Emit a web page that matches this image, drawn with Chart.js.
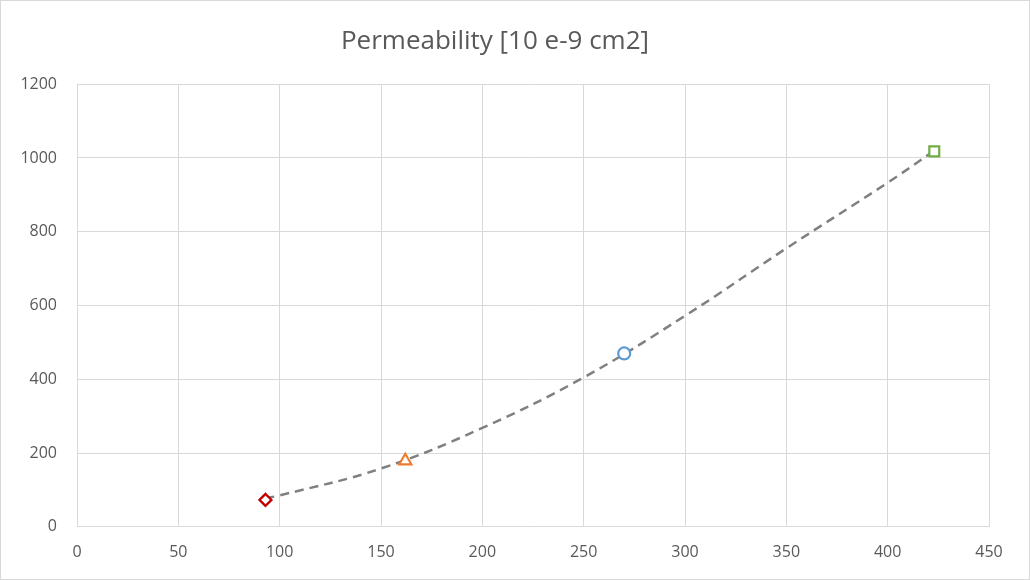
<!DOCTYPE html>
<html>
<head>
<meta charset="utf-8">
<script src="https://cdn.jsdelivr.net/npm/chart.js@4"></script>
<style>
	html, body { margin: 0; padding: 0; background: #fff; }
	#wrap { width: 1028px; height: 578px; border: 1px solid #d9d9d9; }
</style>
</head>
<body>
<div id="wrap"><canvas id="perm-chart" width="1028" height="578"></canvas></div>
<script>
// measured samples
const samples = [
	{ x: 93, y: 73 },
	{ x: 162, y: 179 },
	{ x: 270, y: 470 },
	{ x: 423, y: 1018 }
];
const markerStyles = ["rectRot", "triangle", "circle", "rect"];
const markerColors = ["#C00000", "#ED7D31", "#5B9BD5", "#70AD47"];
const markerSizes = [6, 7, 6, 7];

// trendline
const trendX = [93, 100, 150, 200, 250, 300, 350, 400, 423];
const trendY = [78, 85, 158, 268, 405, 572, 755, 933, 1020];

const xTicks = [0, 50, 100, 150, 200, 250, 300, 350, 400, 450];
const yTicks = [0, 200, 400, 600, 800, 1000, 1200];

const font = "'Open Sans', 'Liberation Sans', sans-serif";
const textColor = "#595959";

const datasets = [
	{
		label: "Trend",
		data: trendX.map((x, i) => ({ x: x, y: trendY[i] })),
		showLine: true,
		borderColor: "#808080",
		borderWidth: 2.5,
		borderDash: [9, 6],
		tension: 0.4,
		pointRadius: 0,
		order: 2
	}
];
samples.forEach((p, i) => {
	datasets.push({
		label: "S" + (i + 1),
		data: [p],
		pointStyle: markerStyles[i],
		pointRadius: markerSizes[i],
		borderColor: markerColors[i],
		backgroundColor: "#fff",
		pointBorderWidth: 2.2,
		order: 1
	});
});

const ctx = document.getElementById("perm-chart").getContext("2d");
const chart = new Chart(ctx, {
	type: "scatter",
	data: { datasets: datasets },
	options: {
		responsive: false,
		animation: false,
		layout: { padding: { left: 0, right: 40, top: 25, bottom: 1 } },
		plugins: {
			legend: { display: false },
			tooltip: { enabled: false },
			title: {
				display: true,
				text: "Permeability [10 e-9 cm2]",
				color: textColor,
				font: { family: font, size: 26, weight: "normal" },
				padding: { top: 0, bottom: 27 }
			}
		},
		scales: {
			x: {
				type: "linear",
				min: 0,
				max: 450,
				afterBuildTicks: (s) => { s.ticks = xTicks.map(v => ({ value: v })); },
				grid: { color: "#d9d9d9", drawTicks: false },
				border: { color: "#d9d9d9" },
				ticks: {
					color: textColor,
					font: { family: font, size: 16 },
					padding: 16,
					callback: (v) => String(v)
				}
			},
			y: {
				type: "linear",
				min: 0,
				max: 1200,
				afterBuildTicks: (s) => { s.ticks = yTicks.map(v => ({ value: v })); },
				afterFit: (s) => { s.width = 76; },
				grid: { color: "#d9d9d9", drawTicks: false },
				border: { color: "#d9d9d9" },
				ticks: {
					color: textColor,
					font: { family: font, size: 16 },
					padding: 20,
					callback: (v) => String(v)
				}
			}
		}
	}
});
</script>
</body>
</html>
